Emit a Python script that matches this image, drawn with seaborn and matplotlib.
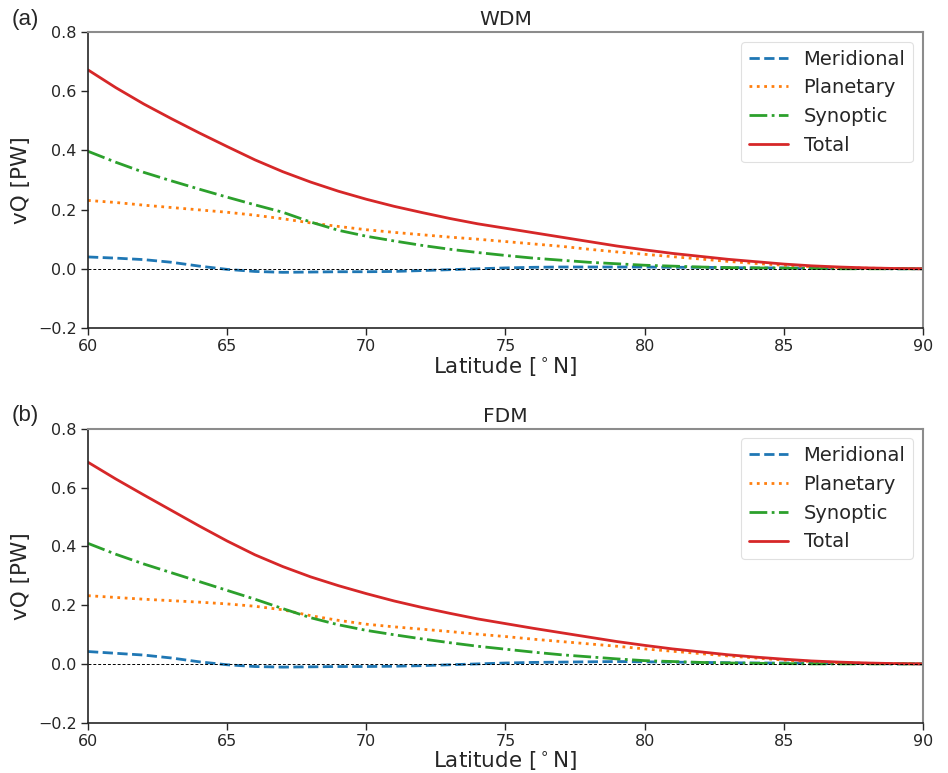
import numpy as np
import pandas as pd
import matplotlib
matplotlib.use("Agg")
import matplotlib.pyplot as plt
import seaborn as sns

lat = list(range(60, 91))

# Panel (a) WDM
wdm_meridional = [0.040, 0.036, 0.031, 0.022, 0.009, -0.002, -0.009, -0.012, -0.011, -0.010,
                  -0.010, -0.009, -0.006, -0.003, 0.000, 0.003, 0.005, 0.006, 0.006, 0.006,
                  0.006, 0.005, 0.005, 0.004, 0.003, 0.003, 0.002, 0.001, 0.001, 0.000, 0.000]
wdm_planetary = [0.231, 0.224, 0.215, 0.207, 0.199, 0.191, 0.181, 0.169, 0.155, 0.143,
                 0.132, 0.123, 0.115, 0.107, 0.100, 0.092, 0.084, 0.076, 0.066, 0.057,
                 0.049, 0.041, 0.033, 0.025, 0.018, 0.012, 0.007, 0.004, 0.002, 0.001, 0.000]
wdm_synoptic = [0.397, 0.360, 0.326, 0.297, 0.269, 0.242, 0.216, 0.191, 0.158, 0.130,
                0.110, 0.094, 0.079, 0.066, 0.055, 0.045, 0.036, 0.029, 0.022, 0.017,
                0.012, 0.009, 0.006, 0.004, 0.003, 0.002, 0.001, 0.000, 0.000, 0.000, 0.000]
wdm_total = [0.672, 0.612, 0.557, 0.507, 0.459, 0.413, 0.368, 0.328, 0.293, 0.262,
             0.235, 0.211, 0.190, 0.170, 0.152, 0.137, 0.122, 0.107, 0.092, 0.077,
             0.064, 0.052, 0.042, 0.032, 0.024, 0.016, 0.010, 0.006, 0.003, 0.001, 0.000]

# Panel (b) FDM
fdm_meridional = [0.042, 0.036, 0.030, 0.020, 0.007, -0.003, -0.009, -0.011, -0.010, -0.009,
                  -0.009, -0.008, -0.006, -0.003, 0.000, 0.003, 0.005, 0.006, 0.007, 0.008,
                  0.007, 0.006, 0.005, 0.004, 0.003, 0.003, 0.002, 0.001, 0.001, 0.000, 0.000]
fdm_planetary = [0.232, 0.226, 0.220, 0.215, 0.210, 0.204, 0.196, 0.184, 0.164, 0.148,
                 0.135, 0.126, 0.118, 0.110, 0.101, 0.093, 0.084, 0.076, 0.068, 0.060,
                 0.051, 0.043, 0.035, 0.027, 0.020, 0.013, 0.008, 0.004, 0.002, 0.001, 0.000]
fdm_synoptic = [0.410, 0.373, 0.340, 0.310, 0.280, 0.250, 0.220, 0.188, 0.157, 0.133,
                0.114, 0.099, 0.085, 0.072, 0.060, 0.050, 0.040, 0.031, 0.024, 0.017,
                0.011, 0.008, 0.005, 0.003, 0.002, 0.001, 0.000, 0.000, 0.000, 0.000, 0.000]
fdm_total = [0.686, 0.629, 0.575, 0.522, 0.469, 0.418, 0.371, 0.331, 0.296, 0.266,
             0.239, 0.214, 0.192, 0.172, 0.153, 0.137, 0.121, 0.106, 0.091, 0.076,
             0.063, 0.051, 0.041, 0.031, 0.023, 0.016, 0.010, 0.006, 0.003, 0.001, 0.000]

series_names = ["Meridional", "Planetary", "Synoptic", "Total"]
panel_titles = ["WDM", "FDM"]
panel_letters = ["(a)", "(b)"]
xticks = [60, 65, 70, 75, 80, 85, 90]
yticks = [-0.2, 0.0, 0.2, 0.4, 0.6, 0.8]

sns.set_theme(style="white")
plt.rcParams['font.family'] = ['DejaVu Sans']

colors = ["#1f77b4", "#ff7f0e", "#2ca02c", "#d62728"]
styles = ["--", ":", "-.", "-"]

fig = plt.figure(figsize=(9.48, 7.73), dpi=100)
ax_a = fig.add_axes([0.0928, 0.5757, 0.8808, 0.3829])
ax_b = fig.add_axes([0.0928, 0.0651, 0.8808, 0.3803])

panels = [
    (ax_a, [wdm_meridional, wdm_planetary, wdm_synoptic, wdm_total]),
    (ax_b, [fdm_meridional, fdm_planetary, fdm_synoptic, fdm_total]),
]

for i, (ax, vals) in enumerate(panels):
    for name, v, c, ls in zip(series_names, vals, colors, styles):
        df = pd.DataFrame({"lat": lat, "vQ": v})
        sns.lineplot(data=df, x="lat", y="vQ", ax=ax, color=c, linestyle=ls,
                     linewidth=2, label=name)
    ax.axhline(0, color="black", linestyle="--", linewidth=0.7, dashes=(3, 2))
    ax.set_xlim(60, 90)
    ax.set_ylim(-0.2, 0.8)
    ax.set_xticks(xticks)
    ax.set_yticks(yticks)
    ax.set_yticklabels([f"{t:.1f}".replace("-", "\u2212") for t in yticks])
    ax.tick_params(axis="both", labelsize=11.5, direction="out", length=5, width=1,
                   colors="#262626", bottom=True, left=True, pad=3)
    ax.set_xlabel("Latitude [$^\\circ$N]", fontsize=15.5, color="#262626", labelpad=1)
    ax.set_ylabel("vQ [PW]", fontsize=15.5, color="#262626", labelpad=5)
    ax.set_title(panel_titles[i], fontsize=14.5, color="#262626", pad=5)
    for s in ["left", "bottom"]:
        ax.spines[s].set_color("#262626")
        ax.spines[s].set_linewidth(1.2)
    for s in ["top", "right"]:
        ax.spines[s].set_color("#8c8c8c")
        ax.spines[s].set_linewidth(1.5)
    leg = ax.legend(loc="upper right", fontsize=14, frameon=True, fancybox=True,
                    handlelength=2.0, labelspacing=0.5, borderpad=0.4)
    leg.get_frame().set_edgecolor("#d9d9d9")
    leg.get_frame().set_linewidth(0.8)
    for t in leg.get_texts():
        t.set_color("#262626")

fig.text(0.012, 0.975, "(a)", fontsize=16, family=["Liberation Sans", "DejaVu Sans"],
         va="center", ha="left", color="#262626")
fig.text(0.012, 0.463, "(b)", fontsize=16, family=["Liberation Sans", "DejaVu Sans"],
         va="center", ha="left", color="#262626")

fig.savefig("out.png", dpi=100)
